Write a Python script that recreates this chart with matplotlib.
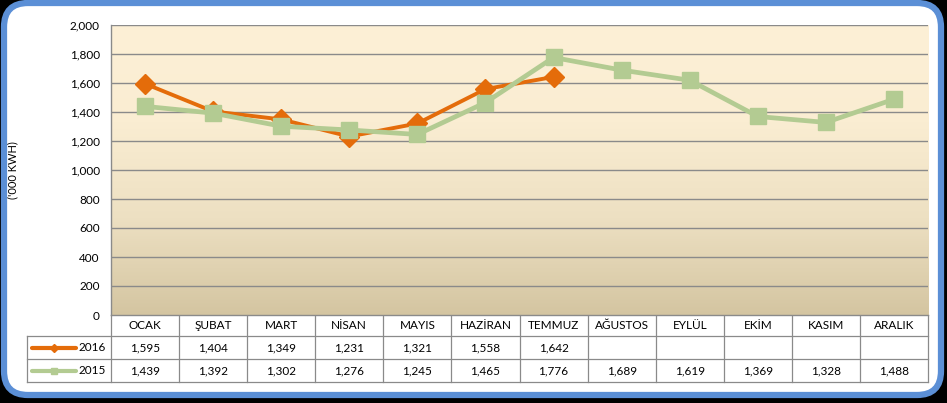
import numpy as np
import matplotlib.pyplot as plt
from matplotlib.patches import FancyBboxPatch
from matplotlib.colors import LinearSegmentedColormap

# Monthly consumption ('000 KWH), 2016 vs 2015

months = ['OCAK', 'ŞUBAT', 'MART', 'NİSAN', 'MAYIS', 'HAZİRAN', 'TEMMUZ',
          'AĞUSTOS', 'EYLÜL', 'EKİM', 'KASIM', 'ARALIK']
values_2016 = [1595, 1404, 1349, 1231, 1321, 1558, 1642]
values_2015 = [1439, 1392, 1302, 1276, 1245, 1465, 1776, 1689, 1619, 1369, 1328, 1488]
yticks = [0, 200, 400, 600, 800, 1000, 1200, 1400, 1600, 1800, 2000]

W, H = 947, 403
ORANGE = '#E46C0A'
GREEN = '#B3CB92'
GRID = '#8A8A8A'
FONT = 'Lato'
FS = 8.5

plt.rcParams['font.family'] = [FONT, 'DejaVu Sans']

fig = plt.figure(figsize=(W / 100, H / 100), dpi=100, facecolor='black')

# background axes in pixel coordinates: frame, y label and data table
bg = fig.add_axes([0, 0, 1, 1])
bg.set_xlim(0, W)
bg.set_ylim(H, 0)
bg.axis('off')
bg.add_patch(FancyBboxPatch((4, 3), 937, 392,
                            boxstyle='round,pad=0,rounding_size=24',
                            fc='white', ec='#5B8FD6', lw=4.5))

# plot area
left, right, top, bottom = 111, 928, 25, 315
ax = fig.add_axes([left / W, 1 - bottom / H, (right - left) / W, (bottom - top) / H])
ax.set_xlim(-0.5, len(months) - 0.5)
ax.set_ylim(0, 2000)

cmap = LinearSegmentedColormap.from_list('bg', ['#D4C5A1', '#EDE0C2', '#FAEDD2', '#FDF0D6'])
grad = np.linspace(0, 1, 256).reshape(-1, 1)
ax.imshow(grad, extent=[-0.5, len(months) - 0.5, 0, 2000], origin='lower',
          aspect='auto', cmap=cmap, zorder=0)

for y in yticks[1:]:
    ax.axhline(y, color=GRID, lw=1, zorder=1)

x16 = np.arange(len(values_2016))
x15 = np.arange(len(values_2015))
ax.plot(x16, values_2016, color=ORANGE, lw=2.8, marker='D', ms=10, zorder=3)
ax.plot(x15, values_2015, color=GREEN, lw=3.4, marker='s', ms=12, zorder=4)

ax.set_yticks(yticks)
ax.set_yticklabels([f'{v:,}' for v in yticks], fontsize=FS)
ax.tick_params(axis='y', length=0, pad=8)
ax.set_xticks([])
for s in ['top', 'right']:
    ax.spines[s].set_visible(False)
for s in ['left', 'bottom']:
    ax.spines[s].set_color(GRID)
    ax.spines[s].set_linewidth(1)

bg.text(13, 170, "('000 KWH)", rotation=90, ha='center', va='center', fontsize=8)

# data table below the plot area
col_w = (right - left) / len(months)
rows = [bottom, 336, 359, 382]
leg_left = 27
lkw = dict(color=GRID, lw=0.9)
for i in range(len(months) + 1):
    xb = left + i * col_w
    bg.plot([xb, xb], [rows[0], rows[-1]], **lkw)
bg.plot([leg_left, leg_left], [rows[1], rows[-1]], **lkw)
for r in rows[1:]:
    bg.plot([leg_left, right], [r, r], **lkw)

centers = [(rows[i] + rows[i + 1]) / 2 for i in range(3)]
for i, m in enumerate(months):
    xc = left + (i + 0.5) * col_w
    bg.text(xc, centers[0], m, ha='center', va='center', fontsize=FS)
    if i < len(values_2016):
        bg.text(xc, centers[1], f'{values_2016[i]:,}', ha='center', va='center', fontsize=FS)
    bg.text(xc, centers[2], f'{values_2015[i]:,}', ha='center', va='center', fontsize=FS)

for yc, label, col, mk, ms in [(centers[1], '2016', ORANGE, 'D', 4),
                               (centers[2], '2015', GREEN, 's', 5)]:
    bg.plot([32, 76], [yc, yc], color=col, lw=3, solid_capstyle='round')
    bg.plot([54], [yc], color=col, marker=mk, ms=ms)
    bg.text(106, yc, label, ha='right', va='center', fontsize=FS)

fig.savefig('out.png', dpi=100, facecolor=fig.get_facecolor())
